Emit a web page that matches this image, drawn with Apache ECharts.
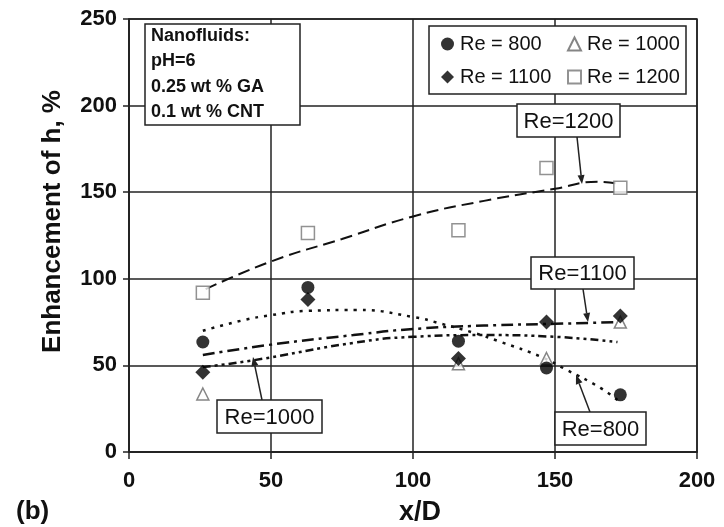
<!DOCTYPE html>
<html><head><meta charset="utf-8">
<script src="https://cdn.jsdelivr.net/npm/echarts@6/dist/echarts.min.js"></script>
<style>html,body{margin:0;padding:0;background:#fff}#c{width:724px;height:527px}</style>
</head><body><div id="c"></div>
<script>
// ---- data ----
const xPos = [26, 63, 116, 147, 173];
const re800 = [63.5, 95, 64, 48.5, 33];
const re1000 = [33.5, null, 51, 54, 75];
const re1100 = [46, 88, 54, 75, 78.5];
const re1200 = [92, 126.5, 128, 164, 152.5];
// trend curves [x, y]
const fit800 = [[26,70],[40,76],[50,79],[63,81.5],[80,82],[100,78],[110,74],[121,69],[131,63.5],[145,55],[154,47.5],[166,37],[172,30]];
const fit1000 = [[26,49],[44,53],[79,63],[100,66.5],[125,67.5],[150,66.5],[172,63.5]];
const fit1100 = [[26,56],[50,62],[79,67.5],[100,71],[125,73],[150,74],[172,75]];
const fit1200 = [[27,94],[50,110],[75,123],[100,136],[125,145],[150,152],[165,156],[172,155]];
const xTicks = [0, 50, 100, 150, 200];
const yTicks = [0, 50, 100, 150, 200, 250];

const FF = '"Liberation Sans", Arial, sans-serif';
const pair = (ys) => xPos.map((x, i) => ys[i] == null ? null : [x, ys[i]]).filter(d => d);

const chart = echarts.init(document.getElementById('c'));
const fitLine = (name, data, type, width) => ({
  name, type: 'line', data, smooth: 0.5, symbol: 'none', silent: true,
  lineStyle: { color: '#111', width, type }, z: 2
});
const legendItem = (name, left, top) => ({
  data: [name], left, top, itemWidth: 13, itemHeight: 13, padding: 0, z: 50, itemGap: 0,
  textStyle: { fontFamily: FF, fontSize: 20, color: '#111', padding: [0, 0, 0, 1] }, selectedMode: false
});
chart.setOption({
  animation: false,
  grid: { left: 129, right: 27, top: 19, bottom: 75, show: true, borderColor: '#222', borderWidth: 1.5,
    containLabel: false, outerBoundsMode: 'none' },
  xAxis: {
    type: 'value', min: 0, max: 200, interval: 50,
    name: 'x/D', nameLocation: 'middle', nameGap: 47,
    nameTextStyle: { fontFamily: FF, fontSize: 27, fontWeight: 'bold', color: '#111', padding: [0, 0, 0, 14] },
    axisLine: { lineStyle: { color: '#222', width: 1.5 } },
    axisTick: { show: true, length: 7, lineStyle: { color: '#222', width: 1.5 } },
    axisLabel: { fontFamily: FF, fontSize: 22, fontWeight: 'bold', color: '#111', margin: 18 },
    splitLine: { lineStyle: { color: '#222', width: 1.5 } }
  },
  yAxis: {
    type: 'value', min: 0, max: 250, interval: 50,
    name: 'Enhancement of h, %', nameLocation: 'middle', nameGap: 63,
    nameTextStyle: { fontFamily: FF, fontSize: 26, fontWeight: 'bold', color: '#111', padding: [0, 0, 0, 28] },
    axisLine: { show: true, lineStyle: { color: '#222', width: 1.5 } },
    axisTick: { show: true, length: 6, lineStyle: { color: '#222', width: 1.5 } },
    axisLabel: { fontFamily: FF, fontSize: 22, fontWeight: 'bold', color: '#111', margin: 12 },
    splitLine: { lineStyle: { color: '#222', width: 1.5 } }
  },
  legend: [
    legendItem('Re = 800', 441, 34),
    legendItem('Re = 1000', 567, 34),
    legendItem('Re = 1100', 441, 67),
    legendItem('Re = 1200', 567, 67)
  ],
  series: [
    fitLine('fit1200', fit1200, [12, 6], 2),
    fitLine('fit800', fit800, [3, 6], 2.5),
    fitLine('fit1100', fit1100, [12, 5, 3, 5], 2.5),
    fitLine('fit1000', fit1000, [8, 4, 3, 4, 3, 4], 2.5),
    { name: 'Re = 1200', type: 'scatter', data: pair(re1200), symbol: 'rect', symbolSize: 13,
      itemStyle: { color: '#fff', borderColor: '#777', borderWidth: 1.5 }, z: 3 },
    { name: 'Re = 1000', type: 'scatter', data: pair(re1000), symbol: 'triangle', symbolSize: 12,
      itemStyle: { color: '#fff', borderColor: '#666', borderWidth: 1.5 }, z: 3 },
    { name: 'Re = 800', type: 'scatter', data: pair(re800), symbol: 'circle', symbolSize: 13,
      itemStyle: { color: '#000' }, z: 4 },
    { name: 'Re = 1100', type: 'scatter', data: pair(re1100), symbol: 'diamond', symbolSize: 15,
      itemStyle: { color: '#000' }, z: 5 }
  ]
});

// annotations (pixel layout)
const box = (x, y, w, h) => ({ type: 'rect', shape: { x, y, width: w, height: h },
  style: { fill: '#fff', stroke: '#222', lineWidth: 1.5 }, z: 20 });
const txt = (x, y, t, size, weight, align) => ({ type: 'text', x, y,
  style: { text: t, fontFamily: FF, fontSize: size, fontWeight: weight, fill: '#111',
    textAlign: align || 'center', textVerticalAlign: 'middle' }, z: 21 });
const arrow = (x1, y1, x2, y2) => {
  const a = Math.atan2(y2 - y1, x2 - x1), L = 9, W = 3.5;
  const bx = x2 - L * Math.cos(a), by = y2 - L * Math.sin(a);
  const px = -Math.sin(a) * W, py = Math.cos(a) * W;
  return [
    { type: 'line', shape: { x1, y1, x2: bx, y2: by }, style: { stroke: '#222', lineWidth: 1.5 }, z: 19 },
    { type: 'polygon', shape: { points: [[x2, y2], [bx + px, by + py], [bx - px, by - py]] },
      style: { fill: '#222' }, z: 19 }
  ];
};
const labels = [
  { t: 'Re=1200', x: 517, y: 104, w: 103, h: 33, from: [577, 137], to: [582, 184] },
  { t: 'Re=1100', x: 531, y: 257, w: 103, h: 32, from: [583, 289], to: [588, 322] },
  { t: 'Re=800',  x: 555, y: 412, w: 91,  h: 33, from: [590, 412], to: [576, 375] },
  { t: 'Re=1000', x: 217, y: 400, w: 105, h: 33, from: [262, 400], to: [253, 357] }
];
const g = [];
g.push(box(429, 26, 257, 68));
g.push(box(145, 24, 155, 101));
['Nanofluids:', 'pH=6', '0.25 wt % GA', '0.1 wt % CNT'].forEach((t, i) =>
  g.push(txt(151, 36 + i * 25.5, t, 18, 'bold', 'left')));
labels.forEach(l => {
  g.push(...arrow(l.from[0], l.from[1], l.to[0], l.to[1]));
  g.push(box(l.x, l.y, l.w, l.h));
  g.push(txt(l.x + l.w / 2, l.y + l.h / 2 + 1, l.t, 22, 'normal'));
});
g.push(txt(16, 512, '(b)', 26, 'bold', 'left'));
chart.setOption({ graphic: g });
</script></body></html>
